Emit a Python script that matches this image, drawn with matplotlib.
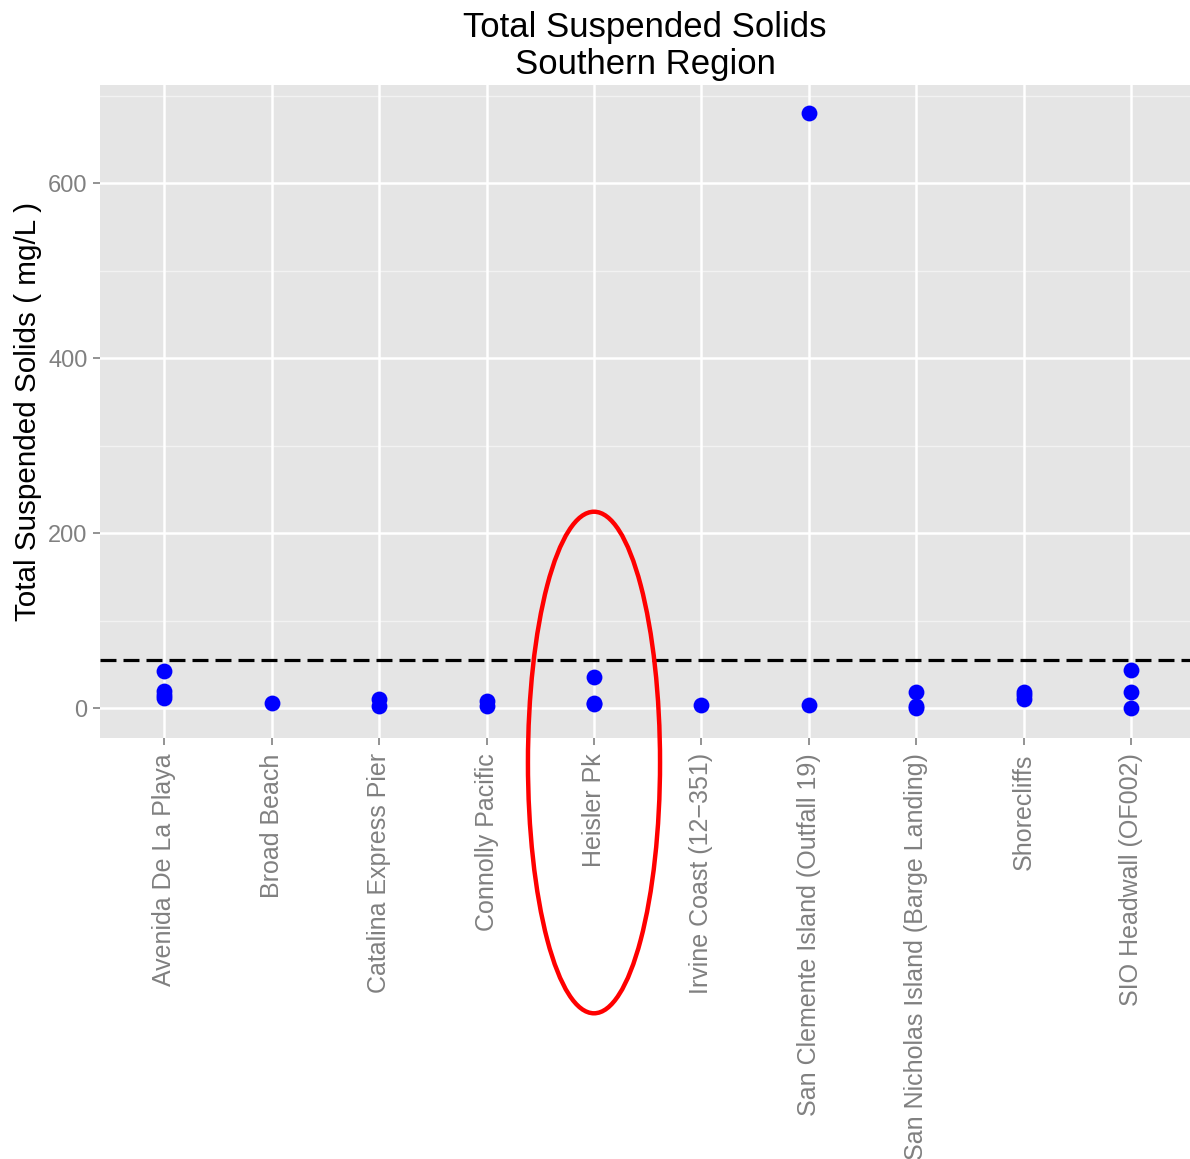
import matplotlib.pyplot as plt
from matplotlib.patches import Ellipse

# station names along the x axis
sites = ["Avenida De La Playa", "Broad Beach", "Catalina Express Pier",
         "Connolly Pacific", "Heisler Pk", "Irvine Coast (12\u2212351)",
         "San Clemente Island (Outfall 19)", "San Nicholas Island (Barge Landing)",
         "Shorecliffs", "SIO Headwall (OF002)"]

# measured TSS values (mg/L) per site
tss = [
    [42, 20, 15, 12],
    [6],
    [10, 3],
    [8, 2],
    [36, 6, 5],
    [4],
    [680, 4],
    [18, 3, 0],
    [19, 15, 11],
    [44, 19, 0],
]

threshold = 55
y_ticks = [0, 200, 400, 600]
y_minor = [100, 300, 500, 700]
highlight = "Heisler Pk"

plt.rcParams['font.family'] = ['Liberation Sans', 'DejaVu Sans']

fig = plt.figure(figsize=(11.9, 11.59), dpi=100)
ax = fig.add_axes([100 / 1190, 1 - 738 / 1159, 1090 / 1190, (738 - 85) / 1159])
ax.set_facecolor('#E5E5E5')

for v in y_minor:
    ax.axhline(v, color='#F2F2F2', lw=1.0, zorder=0)
for v in y_ticks:
    ax.axhline(v, color='white', lw=1.8, zorder=0)
for i in range(len(sites)):
    ax.axvline(i, color='white', lw=1.8, zorder=0)

xs, ys = [], []
for i, vals in enumerate(tss):
    xs += [i] * len(vals)
    ys += vals
ax.scatter(xs, ys, s=130, color='#0000FF', zorder=3, linewidths=0)

ax.axhline(threshold, color='black', lw=2.3, ls=(0, (5, 2.2)), zorder=2)

ax.set_xlim(-0.6, len(sites) - 1 + 0.55)
ax.set_ylim(-34, 712)
ax.set_xticks(range(len(sites)))
ax.set_xticklabels(sites, rotation=90, fontsize=18, color='#808080')
ax.set_yticks(y_ticks)
ax.set_yticklabels([str(v) for v in y_ticks], fontsize=17, color='#808080')
ax.tick_params(axis='both', length=5, width=1.2, color='#808080', pad=4)
ax.tick_params(axis='x', pad=6)
for s in ax.spines.values():
    s.set_visible(False)

ax.set_ylabel("Total Suspended Solids ( mg/L )", fontsize=21.3, labelpad=4)
ax.set_title("Total Suspended Solids\nSouthern Region", fontsize=25, pad=8,
             linespacing=1.15)

# red ring around the highlighted station
hx = sites.index(highlight)
ax.add_patch(Ellipse((hx, -62), 1.23, 573, fill=False, edgecolor='red',
                     lw=3.2, clip_on=False, zorder=5))

fig.savefig("out.png", dpi=100)
